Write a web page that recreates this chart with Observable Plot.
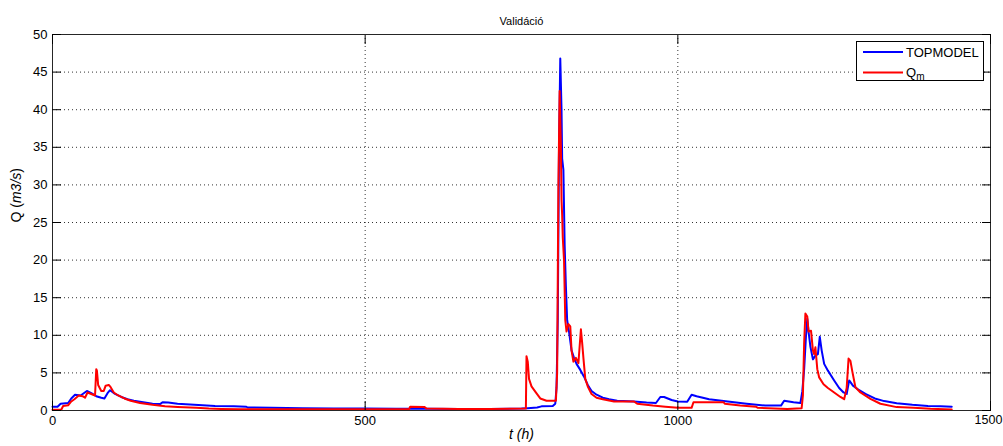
<!DOCTYPE html>
<html><head><meta charset="utf-8">
<script src="https://cdn.jsdelivr.net/npm/d3@7"></script>
<script src="https://cdn.jsdelivr.net/npm/@observablehq/plot@0.6"></script>
<style>body{margin:0;background:#fff} #chart{width:1003px;height:446px}</style>
</head><body><div id="chart"></div>
<script>
const title = "Validáció";
const xLabel = "t (h)";
const yLabel = "Q (m3/s)";
const seriesNames = ["TOPMODEL", "Q", "m"];
const xTicks = [0, 500, 1000];
const xTickLast = [1500];
const yTicks = [0, 5, 10, 15, 20, 25, 30, 35, 40, 45, 50];
const gridX = [500, 1000];
const gridY = [5, 10, 15, 20, 25, 30, 35, 40, 45];

// TOPMODEL (simulated)
const tTop = [0,8,13,25,30,36,45,50,55,62,70,78,83,88,92,100,110,120,130,145,160,172,176,185,200,220,240,260,290,310,312,350,400,450,500,550,600,650,700,750,760,775,782,800,804,806,808,810,812,814,815,817,819,821,823,826,830,834,838,844,850,856,862,870,880,890,903,930,950,965,972,978,990,1000,1015,1022,1030,1050,1070,1090,1110,1140,1165,1170,1185,1196,1199,1202,1205,1207,1209,1212,1216,1220,1224,1227,1230,1234,1240,1250,1258,1265,1270,1274,1280,1290,1300,1315,1330,1350,1375,1400,1420,1438];
const qTop = [0.5,0.5,0.9,1.0,1.6,2.1,2.0,2.3,2.6,2.3,1.9,1.7,1.6,2.3,2.7,2.2,1.8,1.5,1.3,1.1,0.9,0.85,1.1,1.05,0.9,0.8,0.7,0.6,0.55,0.5,0.4,0.35,0.3,0.28,0.25,0.22,0.22,0.2,0.2,0.25,0.3,0.4,0.55,0.6,0.9,3,12,35,46.8,40,33.5,32,22,16.5,12,10.5,8,7,6.2,5.4,4.5,3.4,2.6,2.1,1.7,1.5,1.3,1.2,1.05,1.0,1.8,1.8,1.4,1.2,1.15,2.1,1.9,1.5,1.3,1.1,0.9,0.65,0.65,1.3,1.1,1.0,2.5,5.5,10,12.2,10.5,8.5,6.8,7.3,7.5,9.8,8,6.2,5.3,4.0,3.0,2.4,2.2,4.0,3.3,2.7,2.2,1.6,1.25,0.97,0.75,0.6,0.55,0.5];

// Qm (measured)
const tObs = [0,14,17,25,30,35,42,48,52,56,62,68,70,71,73,78,82,85,90,93,98,105,115,125,140,160,180,200,230,250,270,300,400,500,570,572,595,598,650,700,757,758,760,762,766,772,780,790,805,807,809,811,813,814,815,816,818,820,822,825,828,830,833,837,841,845,847,849,852,856,862,870,880,898,930,935,960,980,1000,1022,1025,1073,1075,1100,1125,1128,1175,1198,1200,1202,1204,1207,1209,1213,1216,1218,1220,1223,1226,1233,1240,1250,1260,1266,1270,1273,1276,1279,1284,1292,1308,1324,1350,1377,1404,1438];
const qObs = [0.1,0.1,0.6,0.7,1.2,1.5,2.0,1.9,1.7,2.4,2.2,2.0,5.5,5.3,3.4,2.6,2.6,3.3,3.4,3.1,2.4,2.0,1.6,1.3,1.0,0.75,0.55,0.45,0.35,0.25,0.2,0.15,0.15,0.15,0.15,0.5,0.45,0.25,0.2,0.2,0.25,7.2,6.5,4.2,3.2,2.5,1.6,1.3,1.3,5,30,42.5,35,28,26,23,20,12,10.5,11.5,11.2,8,6.5,7,6.3,10.8,9,7,4.2,3.2,2.2,1.7,1.5,1.2,1.2,0.9,0.65,0.5,0.35,0.35,1.1,1.1,0.9,0.66,0.5,0.35,0.2,0.3,2,9,12.9,12.5,10.5,10.6,8,7.5,8.4,5.5,4.4,3.5,3.0,2.4,1.8,1.5,3,6.9,6.6,5.2,3.1,2.4,1.55,0.9,0.45,0.35,0.22,0.13];

const topRows = tTop.map((t, i) => ({t, q: qTop[i]}));
const obsRows = tObs.map((t, i) => ({t, q: qObs[i]}));

const font = "'Liberation Sans', Arial, Helvetica, sans-serif";
const gridStyle = {stroke: "#000", strokeOpacity: 0.8, strokeDasharray: "1,3"};
const fmt = d => String(d);
const allX = xTicks.concat(xTickLast);

const plot = Plot.plot({
  width: 1003, height: 446,
  marginLeft: 52, marginRight: 13, marginTop: 34, marginBottom: 36,
  style: {fontFamily: font, fontSize: "13px", background: "#fff", color: "#000"},
  x: {domain: [0, 1500]},
  y: {domain: [0, 50]},
  marks: [
    Plot.gridX(gridX, gridStyle),
    Plot.gridY(gridY, gridStyle),
    Plot.line(topRows, {x: "t", y: "q", stroke: "#0000ff", strokeWidth: 2}),
    Plot.line(obsRows, {x: "t", y: "q", stroke: "#ff0000", strokeWidth: 2}),
    Plot.frame({stroke: "#262626"}),
    Plot.axisY(yTicks, {anchor: "left", tickSize: 0, tickPadding: 5, label: null, fontSize: 13, tickFormat: fmt}),
    Plot.axisY(yTicks, {anchor: "left", tickSize: 9, dx: 9, fill: "none", label: null}),
    Plot.axisY(yTicks, {anchor: "right", tickSize: 9, dx: -9, fill: "none", label: null}),
    Plot.axisX(xTicks, {anchor: "bottom", tickSize: 0, tickPadding: 5, label: null, fontSize: 13, tickFormat: fmt}),
    Plot.axisX(xTickLast, {anchor: "bottom", tickSize: 0, tickPadding: 5, label: null, fontSize: 12.5, dx: -2, tickFormat: fmt}),
    Plot.axisX(allX, {anchor: "bottom", tickSize: 9, dy: -9, fill: "none", label: null}),
    Plot.axisX(allX, {anchor: "top", tickSize: 9, dy: 9, fill: "none", label: null}),
    Plot.text([title], {frameAnchor: "top", dy: -17, fontSize: 11, text: d => d}),
    Plot.text([xLabel], {frameAnchor: "bottom", dy: 28, fontSize: 14, fontStyle: "italic", text: d => d}),
    Plot.text([yLabel], {frameAnchor: "left", dx: -36, rotate: -90, fontSize: 14, text: d => d})
  ]
});
document.getElementById("chart").appendChild(plot);

// y label: italic units
d3.select(plot).selectAll("text").filter(function() { return this.textContent === yLabel; })
  .each(function() {
    const t = d3.select(this);
    t.text(null);
    t.append("tspan").text("Q (");
    t.append("tspan").attr("font-style", "italic").text("m3/s");
    t.append("tspan").text(")");
  });

// legend
const svg = d3.select(plot);
const lg = svg.append("g").attr("font-family", font).attr("font-size", 13).attr("text-anchor", "start");
lg.append("rect").attr("x", 856.5).attr("y", 41.5).attr("width", 127).attr("height", 39)
  .attr("fill", "#fff").attr("stroke", "#000");
lg.append("line").attr("x1", 863).attr("x2", 903).attr("y1", 52).attr("y2", 52).attr("stroke", "#0000ff").attr("stroke-width", 2);
lg.append("line").attr("x1", 863).attr("x2", 903).attr("y1", 72.5).attr("y2", 72.5).attr("stroke", "#ff0000").attr("stroke-width", 2);
lg.append("text").attr("x", 906).attr("y", 56.5).attr("text-anchor", "start").text(seriesNames[0]);
const q = lg.append("text").attr("x", 906).attr("y", 77).attr("text-anchor", "start");
q.append("tspan").text(seriesNames[1]);
q.append("tspan").attr("font-size", 10).attr("dy", 3).text(seriesNames[2]);
</script>
</body></html>
